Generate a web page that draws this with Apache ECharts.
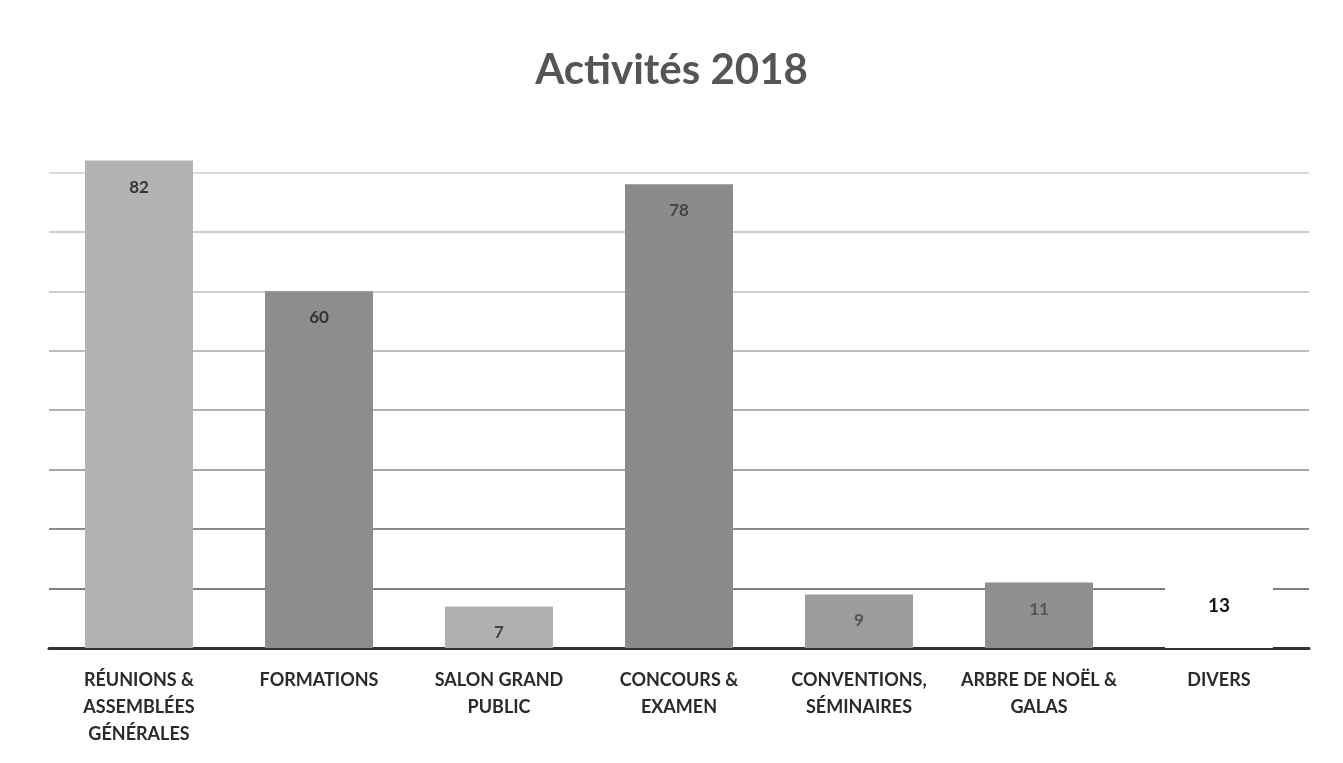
<!DOCTYPE html>
<html>
<head>
<meta charset="utf-8">
<script src="https://cdn.jsdelivr.net/npm/echarts@6/dist/echarts.min.js"></script>
<style>
  html, body { margin: 0; padding: 0; background: #fff; }
  #chart { width: 1343px; height: 763px; }
</style>
</head>
<body>
<div id="chart"></div>
<script>
// données
const categories = [
  'RÉUNIONS &\nASSEMBLÉES\nGÉNÉRALES',
  'FORMATIONS',
  'SALON GRAND\nPUBLIC',
  'CONCOURS &\nEXAMEN',
  'CONVENTIONS,\nSÉMINAIRES',
  'ARBRE DE NOËL &\nGALAS',
  'DIVERS'
];
const values = [82, 60, 7, 78, 9, 11, 13];
const barColors = ['#b3b3b3', '#8d8d8d', '#b0b0b0', '#8b8b8b', '#9c9c9c', '#8f8f8f', '#ffffff'];
const labelColors = ['#333', '#333', '#444', '#444', '#555', '#555', '#111'];

const chart = echarts.init(document.getElementById('chart'));

chart.setOption({
  backgroundColor: '#fff',
  animation: false,
  title: {
    text: 'Activités 2018',
    left: 'center',
    top: 44,
    textStyle: {
      fontFamily: 'Lato',
      fontSize: 42,
      fontWeight: 'bold',
      color: '#555'
    }
  },
  grid: {
    left: 49,
    right: 34,
    top: 113,
    bottom: 115
  },
  xAxis: {
    type: 'category',
    data: categories,
    axisTick: { show: false },
    axisLine: { lineStyle: { color: '#333', width: 3 } },
    axisLabel: {
      interval: 0,
      margin: 19,
      fontFamily: 'Lato',
      fontSize: 18,
      fontWeight: 'bold',
      color: '#2a2a2a',
      lineHeight: 27
    }
  },
  yAxis: {
    type: 'value',
    min: 0,
    max: 90,
    interval: 10,
    axisLabel: { show: false },
    axisLine: { show: false },
    axisTick: { show: false },
    splitLine: {
      lineStyle: {
        width: 1.5,
        color: ['#555', '#555', '#666', '#888', '#999', '#aaa', '#bbb', '#bbb', '#ccc', 'rgba(0,0,0,0)']
      }
    }
  },
  series: [
    {
      type: 'bar',
      barWidth: '60%',
      data: values.map((v, i) => ({
        value: v,
        itemStyle: { color: barColors[i] },
        label: i === values.length - 1
          ? { color: labelColors[i], fontSize: 19, distance: 26 }
          : { color: labelColors[i] }
      })),
      label: {
        show: true,
        position: 'insideTop',
        distance: 18,
        fontFamily: 'Lato',
        fontSize: 17,
        fontWeight: 'bold'
      }
    }
  ]
});

window.addEventListener('resize', () => chart.resize());
</script>
</body>
</html>
